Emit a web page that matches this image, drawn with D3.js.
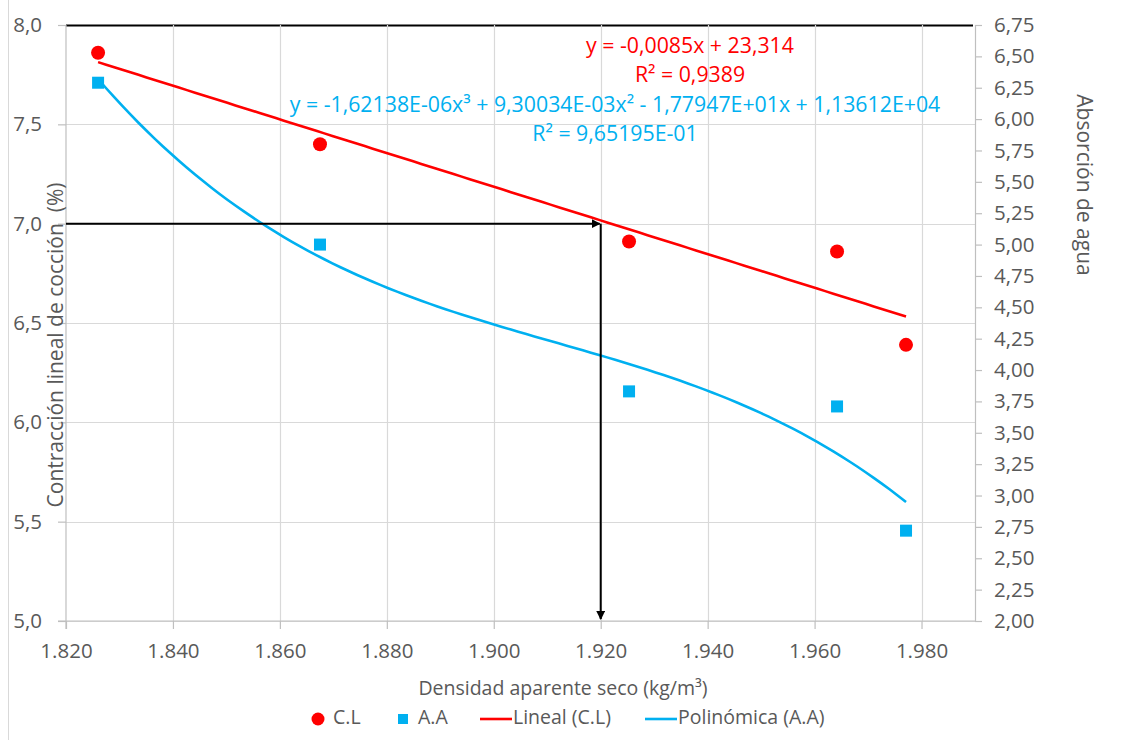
<!DOCTYPE html>
<html>
<head>
<meta charset="utf-8">
<script src="https://cdn.jsdelivr.net/npm/d3@7"></script>
<style>
    body { margin: 0; background: #ffffff; }
    svg text { font-family: "Open Sans", "Liberation Sans", sans-serif; }
</style>
</head>
<body>
<div id="chart"></div>
<script>
// Data
const densidad = [1826, 1867.5, 1925.3, 1964.2, 1977.1];
const contraccion = [7.86, 7.40, 6.91, 6.86, 6.39];
const absorcion = [6.29, 5.00, 3.83, 3.71, 2.72];

const xTicks = [1820, 1840, 1860, 1880, 1900, 1920, 1940, 1960, 1980];
const yLeftTicks = [5.0, 5.5, 6.0, 6.5, 7.0, 7.5, 8.0];
const yRightTicks = d3.range(0, 20).map(i => 2 + i * 0.25);

const equations = [
    { text: 'y = -0,0085x + 23,314', color: '#ff0000' },
    { text: 'R² = 0,9389', color: '#ff0000' },
    { text: 'y = -1,62138E-06x³ + 9,30034E-03x² - 1,77947E+01x + 1,13612E+04', color: '#00b0f0' },
    { text: 'R² = 9,65195E-01', color: '#00b0f0' }
];

const legendItems = [
    { label: 'C.L', type: 'circle', color: '#ff0000' },
    { label: 'A.A', type: 'square', color: '#00b0f0' },
    { label: 'Lineal (C.L)', type: 'line', color: '#ff0000' },
    { label: 'Polinómica (A.A)', type: 'line', color: '#00b0f0' }
];

// reading marked on the chart: 1.920 kg/m3 -> 7,0 %
const lectura = { x: 1920, y: 7.0 };

const width = 1121, height = 740;
const margin = { top: 25, right: 146, bottom: 119, left: 66 };

const svg = d3.select('#chart')
    .append('svg')
    .attr('width', width)
    .attr('height', height);

const x = d3.scaleLinear().domain([1820, 1990]).range([margin.left, width - margin.right]);
const yL = d3.scaleLinear().domain([5, 8]).range([height - margin.bottom, margin.top]);
const yR = d3.scaleLinear().domain([2, 6.75]).range([height - margin.bottom, margin.top]);

const grid = '#d9d9d9';
const axisColor = '#bfbfbf';
const textColor = '#595959';

// outer frame line at the left edge
svg.append('line')
    .attr('x1', 8.5).attr('x2', 8.5)
    .attr('y1', 0).attr('y2', height)
    .attr('stroke', '#d9d9d9');

// horizontal gridlines (the top one is drawn black in the original)
svg.selectAll('.hgrid')
    .data(yLeftTicks)
    .enter()
    .append('line')
    .attr('x1', x(1820)).attr('x2', d => d === 8 ? x(1990) - 2 : x(1990))
    .attr('y1', d => Math.round(yL(d)) + 0.5)
    .attr('y2', d => Math.round(yL(d)) + 0.5)
    .attr('stroke', d => d === 8 ? '#000000' : grid)
    .attr('stroke-width', d => d === 8 ? 2 : 1.2);

// vertical gridlines
svg.selectAll('.vgrid')
    .data(xTicks.slice(1))
    .enter()
    .append('line')
    .attr('x1', d => Math.round(x(d)) + 0.5)
    .attr('x2', d => Math.round(x(d)) + 0.5)
    .attr('y1', yL(8)).attr('y2', yL(5))
    .attr('stroke', grid)
    .attr('stroke-width', 1.2);

// X axis
const xAxis = svg.append('g')
    .attr('transform', `translate(0,${yL(5)})`)
    .call(d3.axisBottom(x)
        .tickValues(xTicks)
        .tickSize(8)
        .tickPadding(10)
        .tickFormat(d => d3.format(',')(d).replace(',', '.')));

// left axis
const yAxisL = svg.append('g')
    .attr('transform', `translate(${x(1820)},0)`)
    .call(d3.axisLeft(yL)
        .tickValues(yLeftTicks)
        .tickSize(8)
        .tickPadding(16)
        .tickFormat(d => d3.format('.1f')(d).replace('.', ',')));

// right axis
const yAxisR = svg.append('g')
    .attr('transform', `translate(${x(1990)},0)`)
    .call(d3.axisRight(yR)
        .tickValues(yRightTicks)
        .tickSize(7)
        .tickPadding(12)
        .tickFormat(d => d3.format('.2f')(d).replace('.', ',')));

[xAxis, yAxisL, yAxisR].forEach(g => {
    g.select('.domain').attr('stroke', axisColor).attr('stroke-width', 1.2);
    g.selectAll('.tick line').attr('stroke', axisColor).attr('stroke-width', 1.2);
    g.selectAll('.tick text')
        .style('font-size', '20.5px')
        .style('fill', textColor);
});
xAxis.select('.domain').remove();
yAxisL.select('.domain').attr('d', `M0,${yL(8)}V${yL(5) + 8}`);
xAxis.append('line')
    .attr('x1', x(1820) - 8).attr('x2', x(1990))
    .attr('stroke', axisColor).attr('stroke-width', 1.2);
xAxis.selectAll('.tick text').attr('dy', '0.95em');

// trend lines: least squares on the data
function polyFit(xs, ys, degree) {
    const n = degree + 1;
    const us = xs.map(v => (v - 1900) / 100);
    const A = d3.range(n).map(() => new Array(n + 1).fill(0));
    us.forEach((u, k) => {
        for (let i = 0; i < n; i++) {
            for (let j = 0; j < n; j++) A[i][j] += Math.pow(u, i + j);
            A[i][n] += ys[k] * Math.pow(u, i);
        }
    });
    for (let c = 0; c < n; c++) {
        let p = c;
        for (let r = c + 1; r < n; r++) if (Math.abs(A[r][c]) > Math.abs(A[p][c])) p = r;
        [A[c], A[p]] = [A[p], A[c]];
        for (let r = 0; r < n; r++) {
            if (r === c) continue;
            const f = A[r][c] / A[c][c];
            for (let k = c; k <= n; k++) A[r][k] -= f * A[c][k];
        }
    }
    const coef = A.map((row, i) => row[n] / row[i]);
    return v => {
        const u = (v - 1900) / 100;
        return coef.reduce((s, c, i) => s + c * Math.pow(u, i), 0);
    };
}

const linFit = polyFit(densidad, contraccion, 1);
const cubicFit = polyFit(densidad, absorcion, 3);
const xs = d3.range(0, 101).map(i => d3.min(densidad) + (d3.max(densidad) - d3.min(densidad)) * i / 100);

svg.append('path')
    .datum(xs)
    .attr('fill', 'none')
    .attr('stroke', '#ff0000')
    .attr('stroke-width', 2.6)
    .attr('d', d3.line().x(d => x(d)).y(d => yL(linFit(d))));

svg.append('path')
    .datum(xs)
    .attr('fill', 'none')
    .attr('stroke', '#00b0f0')
    .attr('stroke-width', 2.6)
    .attr('d', d3.line().x(d => x(d)).y(d => yR(cubicFit(d))));

// arrow marking the reading
const defs = svg.append('defs');
defs.append('marker')
    .attr('id', 'arrow')
    .attr('viewBox', '0 0 10 10')
    .attr('refX', 9).attr('refY', 5)
    .attr('markerWidth', 4.5).attr('markerHeight', 4.5)
    .attr('orient', 'auto')
    .append('path')
    .attr('d', 'M0,0L10,5L0,10Z')
    .attr('fill', '#000000');

svg.append('line')
    .attr('x1', x(1820)).attr('x2', x(lectura.x) - 1)
    .attr('y1', yL(lectura.y)).attr('y2', yL(lectura.y))
    .attr('stroke', '#000000').attr('stroke-width', 2)
    .attr('marker-end', 'url(#arrow)');

svg.append('line')
    .attr('x1', x(lectura.x)).attr('x2', x(lectura.x))
    .attr('y1', yL(lectura.y)).attr('y2', yL(5) - 2)
    .attr('stroke', '#000000').attr('stroke-width', 2)
    .attr('marker-end', 'url(#arrow)');

// points
svg.selectAll('.cl')
    .data(densidad)
    .enter()
    .append('circle')
    .attr('cx', d => x(d))
    .attr('cy', (d, i) => yL(contraccion[i]))
    .attr('r', 7)
    .attr('fill', '#ff0000');

svg.selectAll('.aa')
    .data(densidad)
    .enter()
    .append('rect')
    .attr('x', d => x(d) - 6)
    .attr('y', (d, i) => yR(absorcion[i]) - 6)
    .attr('width', 12).attr('height', 12)
    .attr('fill', '#00b0f0');

// equations
const eqPos = [
    { cx: 690, cy: 47 }, { cx: 690, cy: 76 },
    { cx: 615, cy: 106 }, { cx: 615, cy: 135 }
];
svg.selectAll('.eq')
    .data(equations)
    .enter()
    .append('text')
    .attr('x', (d, i) => eqPos[i].cx)
    .attr('y', (d, i) => eqPos[i].cy)
    .attr('text-anchor', 'middle')
    .attr('dominant-baseline', 'middle')
    .style('font-size', '21.3px')
    .style('fill', d => d.color)
    .text(d => d.text);

// axis titles
svg.append('text')
    .attr('transform', 'translate(57,345) rotate(-90)')
    .attr('text-anchor', 'middle')
    .attr('dominant-baseline', 'middle')
    .style('font-size', '21px')
    .style('fill', textColor)
    .style('white-space', 'pre')
    .text('Contracción lineal de cocción  (%)');

svg.append('text')
    .attr('transform', 'translate(1083,185) rotate(90)')
    .attr('text-anchor', 'middle')
    .attr('dominant-baseline', 'middle')
    .style('font-size', '21px')
    .style('fill', textColor)
    .text('Absorción de agua');

svg.append('text')
    .attr('x', 563).attr('y', 690)
    .attr('text-anchor', 'middle')
    .attr('dominant-baseline', 'middle')
    .style('font-size', '19.5px')
    .style('fill', textColor)
    .text('Densidad aparente seco (kg/m³)');

// legend
const legendX = [318, 403, 480, 645];
const legend = svg.append('g').attr('transform', 'translate(0,719)');
legendItems.forEach((d, i) => {
    const g = legend.append('g').attr('transform', `translate(${legendX[i]},0)`);
    if (d.type === 'circle') {
        g.append('circle').attr('r', 6.5).attr('fill', d.color);
    } else if (d.type === 'square') {
        g.append('rect').attr('x', -5).attr('y', -5).attr('width', 10).attr('height', 10).attr('fill', d.color);
    } else {
        g.append('line').attr('x1', 0).attr('x2', 32).attr('stroke', d.color).attr('stroke-width', 2.6);
    }
    g.append('text')
        .attr('x', d.type === 'line' ? 33 : 15)
        .attr('dominant-baseline', 'middle')
        .style('font-size', '19.5px')
        .style('fill', textColor)
        .text(d.label);
});
</script>
</body>
</html>
